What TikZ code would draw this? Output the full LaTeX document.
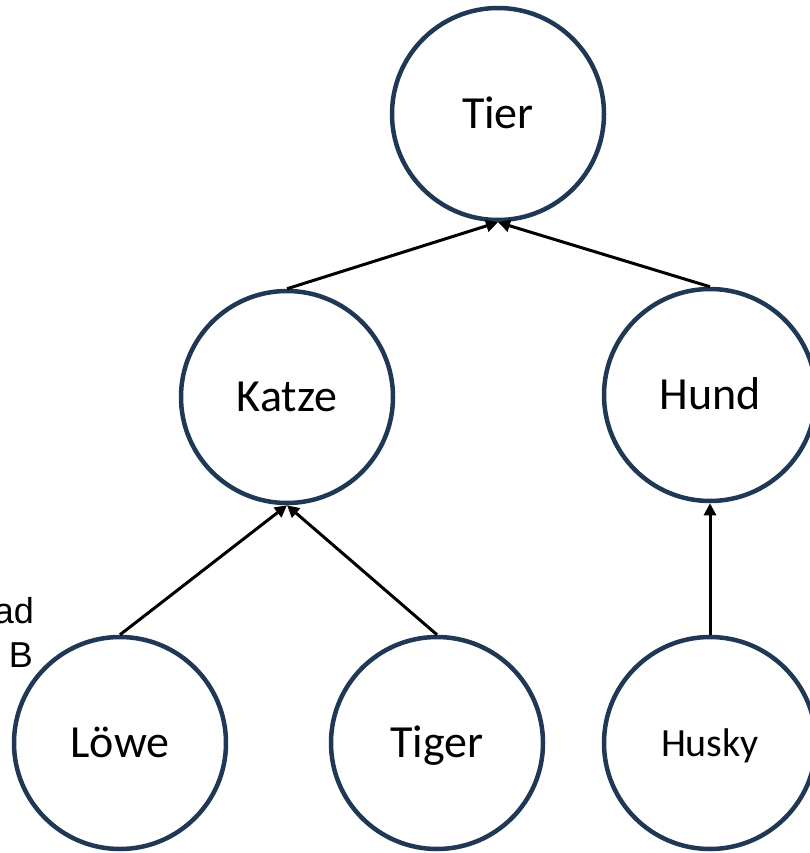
\documentclass[tikz,border=0pt]{standalone}
\usepackage{fontspec}
\setmainfont{Carlito}
\newfontfamily\arialfont{Liberation Sans}
\usetikzlibrary{arrows.meta}
\definecolor{navy}{RGB}{31,56,86}
\begin{document}
\begin{tikzpicture}[x=1pt,y=-1pt,
  animal/.style={circle,draw=navy,line width=4.5pt,minimum size=212pt,inner sep=0pt,text height=29pt,text depth=0pt,font=\fontsize{46}{50}\selectfont},
  small/.style={font=\fontsize{40}{44}\selectfont,text height=26pt},
  arr/.style={-{Triangle[length=12pt,width=12pt]},line width=3pt,black}]
\useasboundingbox (0,0) rectangle (809,853);
\node[animal] (tier) at (498,114) {Tier};
\node[animal] (katze) at (287,397) {Katze};
\node[animal] (hund) at (710,395) {Hund};
\node[animal] (loewe) at (120,743) {Löwe};
\node[animal] (tiger) at (437,743) {Tiger};
\node[animal,small] (husky) at (710,743) {Husky};
\node[anchor=base east,inner sep=0pt,font=\arialfont\fontsize{36}{40}\selectfont] (t1) at (34,623) {ad};
\node[anchor=base east,inner sep=0pt,font=\arialfont\fontsize{36}{40}\selectfont] (t2) at (33,667) {B};
\draw[arr] (katze.north) -- (tier.south);
\draw[arr] (hund.north) -- (tier.south);
\draw[arr] (loewe.north) -- (katze.south);
\draw[arr] (tiger.north) -- (katze.south);
\draw[arr] (husky.north) -- (hund.south);
\end{tikzpicture}
\end{document}
